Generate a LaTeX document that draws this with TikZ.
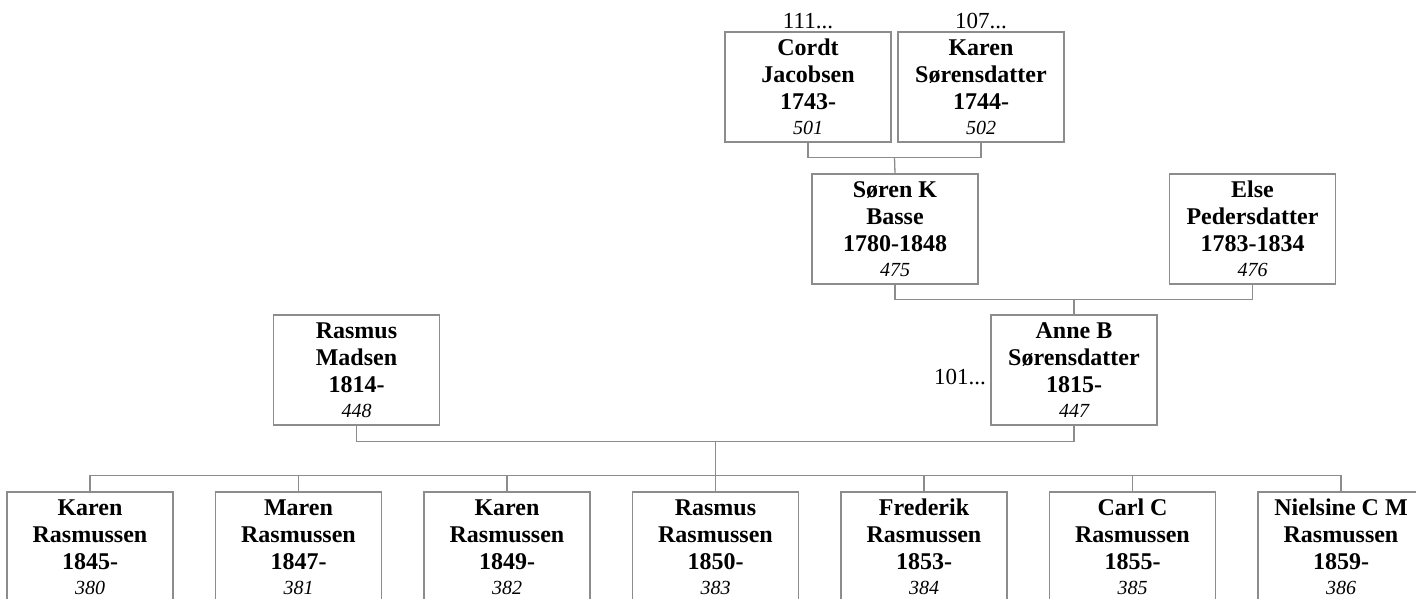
\documentclass[tikz,border=0pt]{standalone}
\usepackage{fontspec}
\setmainfont{Liberation Serif}
\usetikzlibrary{calc}
\definecolor{linegray}{HTML}{8C8C8C}
\tikzset{
  person/.style={draw=linegray, line width=1.3pt, minimum width=166pt, minimum height=110pt,
    inner sep=0pt, align=center, font=\fontsize{24}{27}\selectfont\bfseries},
  conn/.style={draw=linegray, line width=1.3pt},
  ref/.style={inner sep=0pt, font=\fontsize{23}{23}\selectfont}
}
\newcommand{\pers}[4]{#1\\#2\\#3\\[-2pt]{\fontsize{20}{24}\selectfont\mdseries\itshape #4}}
\begin{document}
\begin{tikzpicture}[x=1pt,y=-1pt]
\useasboundingbox (0,0) rectangle (1416,598);
% generation 1
\node[person] (cordt) at (808,87) {\pers{Cordt}{Jacobsen}{1743-}{501}};
\node[person] (karenS) at (981,87) {\pers{Karen}{Sørensdatter}{1744-}{502}};
\node[ref, anchor=base] (r111) at (808,28) {111...};
\node[ref, anchor=base] (r107) at (981,28) {107...};
% generation 2
\node[person] (soren) at (895,229) {\pers{Søren K}{Basse}{1780-1848}{475}};
\node[person] (else) at (1252.5,229) {\pers{Else}{Pedersdatter}{1783-1834}{476}};
% generation 3
\node[person] (rasmus) at (356.5,370) {\pers{Rasmus}{Madsen}{1814-}{448}};
\node[person] (anne) at (1074,370) {\pers{Anne B}{Sørensdatter}{1815-}{447}};
\node[ref, anchor=east] (r101) at (986,377) {101...};
% children
\node[person] (c1) at (90,547) {\pers{Karen}{Rasmussen}{1845-}{380}};
\node[person] (c2) at (298.5,547) {\pers{Maren}{Rasmussen}{1847-}{381}};
\node[person] (c3) at (507,547) {\pers{Karen}{Rasmussen}{1849-}{382}};
\node[person] (c4) at (715.5,547) {\pers{Rasmus}{Rasmussen}{1850-}{383}};
\node[person] (c5) at (924,547) {\pers{Frederik}{Rasmussen}{1853-}{384}};
\node[person] (c6) at (1132.5,547) {\pers{Carl C}{Rasmussen}{1855-}{385}};
\node[person] (c7) at (1341,547) {\pers{Nielsine C M}{Rasmussen}{1859-}{386}};
% connectors
\draw[conn] (cordt.south) -- ++(0,15) -| (karenS.south);
\coordinate (j1) at ($(cordt.south)!0.5!(karenS.south)+(0,15)$);
\draw[conn] (j1) -- (soren.north);
\draw[conn] (soren.south) -- ++(0,15) -| (else.south);
\coordinate (j2) at (anne.north |- {$(soren.south)+(0,15)$});
\draw[conn] (j2) -- (anne.north);
\draw[conn] (rasmus.south) -- ++(0,16) -| (anne.south);
\coordinate (j3) at ($(rasmus.south)!0.5!(anne.south)+(0,16)$);
\coordinate (bar) at ($(j3)+(0,35)$);
\draw[conn] (j3) -- (bar);
\draw[conn] (c1.north) -- ++(0,-16) -| (c7.north);
\foreach \c in {c2,c3,c4,c5,c6} \draw[conn] (\c.north) -- ++(0,-16);
\end{tikzpicture}
\end{document}
